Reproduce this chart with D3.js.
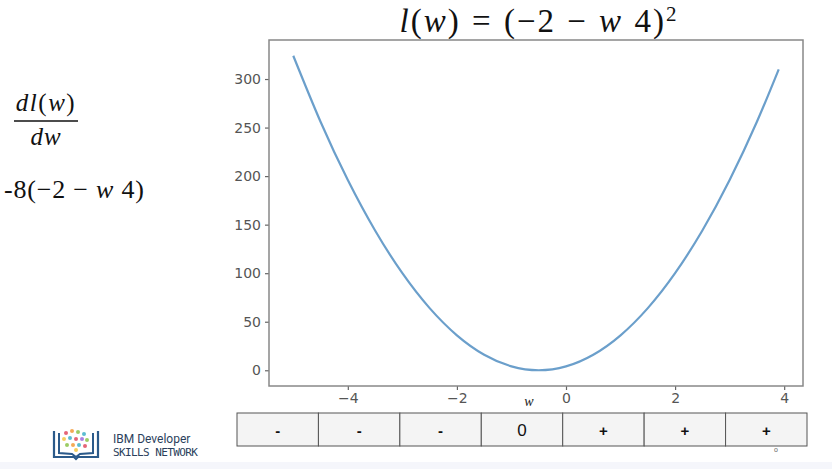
<!DOCTYPE html>
<html>
<head>
<meta charset="utf-8">
<script src="https://cdn.jsdelivr.net/npm/d3@7"></script>
<style>
  body { margin: 0; background: #fff; }
  svg { display: block; }
</style>
</head>
<body>
<svg id="chart" width="832" height="469"></svg>
<script>
// values
var wValues = [-5, -4.5, -4, -3.5, -3, -2.5, -2, -1.5, -1, -0.5, 0, 0.5, 1, 1.5, 2, 2.5, 3, 3.5, 3.9];
var lossValues = [324, 256, 196, 144, 100, 64, 36, 16, 4, 0, 4, 16, 36, 64, 100, 144, 196, 256, 310];
var xTicks = [-4, -2, 0, 2, 4];
var yTicks = [0, 50, 100, 150, 200, 250, 300];
var signLabels = ["-", "-", "-", "0", "+", "+", "+"];

var svg = d3.select("#chart");
var box = {left: 269, right: 803, top: 40, bottom: 386};

var x = d3.scaleLinear().domain([-5.445, 4.345]).range([box.left, box.right]);
var y = d3.scaleLinear().domain([-16.2, 340.2]).range([box.bottom, box.top]);

// bottom band
svg.append("rect").attr("x", 0).attr("y", 462).attr("width", 832).attr("height", 7).attr("fill", "#f5f6fb");

// title
var title = svg.append("text")
  .attr("x", 539).attr("y", 32)
  .attr("text-anchor", "middle")
  .style("font", "33px 'Liberation Serif', serif")
  .style("letter-spacing", "2px")
  .style("word-spacing", "1px")
  .attr("fill", "#111");
title.append("tspan").style("font-style", "italic").text("l");
title.append("tspan").text("(");
title.append("tspan").style("font-style", "italic").text("w");
title.append("tspan").text(") = (−2 − ");
title.append("tspan").style("font-style", "italic").text("w");
title.append("tspan").text(" 4)");
title.append("tspan").attr("dy", -11).style("font-size", "21px").text("2");

// derivative on the left
var num = svg.append("text").attr("x", 46).attr("y", 111).attr("text-anchor", "middle")
  .style("font", "25px 'Liberation Serif', serif").style("letter-spacing", "1.5px").attr("fill", "#111");
num.append("tspan").style("font-style", "italic").text("dl");
num.append("tspan").text("(");
num.append("tspan").style("font-style", "italic").text("w");
num.append("tspan").text(")");
svg.append("line").attr("x1", 14).attr("x2", 78).attr("y1", 121).attr("y2", 121)
  .attr("stroke", "#111").attr("stroke-width", 1.3);
svg.append("text").attr("x", 46).attr("y", 145).attr("text-anchor", "middle")
  .style("font", "italic 25px 'Liberation Serif', serif").style("letter-spacing", "1px").attr("fill", "#111").text("dw");
var der = svg.append("text").attr("x", 4).attr("y", 198)
  .style("font", "26px 'Liberation Serif', serif").style("letter-spacing", "0.8px").attr("fill", "#111");
der.append("tspan").text("-8(−2 − ");
der.append("tspan").style("font-style", "italic").text("w");
der.append("tspan").text(" 4)");

// axes
var yAxis = d3.axisLeft(y).tickValues(yTicks).tickSize(4).tickPadding(4);
var xAxis = d3.axisBottom(x).tickValues(xTicks).tickSize(4).tickPadding(3)
  .tickFormat(function(d) { return d < 0 ? "−" + Math.abs(d) : d; });

var gy = svg.append("g").attr("transform", "translate(" + box.left + ",0)").call(yAxis);
var gx = svg.append("g").attr("transform", "translate(0," + box.bottom + ")").call(xAxis);
[gx, gy].forEach(function(g) {
  g.select(".domain").remove();
  g.selectAll(".tick line").attr("stroke", "#666").attr("stroke-width", 1.2);
  g.selectAll(".tick text").attr("fill", "#555").style("font", "14px 'DejaVu Sans', sans-serif");
});

svg.append("text").attr("x", 529).attr("y", 406).attr("text-anchor", "middle")
  .style("font", "italic 14px 'Liberation Serif', serif").attr("fill", "#222").text("w");

// curve
var line = d3.line()
  .x(function(d, i) { return x(wValues[i]); })
  .y(function(d) { return y(d); })
  .curve(d3.curveNatural);

svg.append("path")
  .datum(lossValues)
  .attr("d", line)
  .attr("fill", "none")
  .attr("stroke", "#6b9fcb")
  .attr("stroke-width", 2.2);

// frame
svg.append("rect")
  .attr("x", box.left).attr("y", box.top)
  .attr("width", box.right - box.left).attr("height", box.bottom - box.top)
  .attr("fill", "none").attr("stroke", "#888").attr("stroke-width", 1.5);

// sign table
var cellX = d3.scaleBand().domain(d3.range(signLabels.length)).range([237, 807]);
var cells = svg.selectAll(".cell").data(signLabels).enter().append("g").attr("class", "cell");
cells.append("rect")
  .attr("x", function(d, i) { return cellX(i); })
  .attr("y", 413)
  .attr("width", cellX.bandwidth())
  .attr("height", 33)
  .attr("fill", "#f4f4f4")
  .attr("stroke", "#555")
  .attr("stroke-width", 1);
cells.append("text")
  .attr("x", function(d, i) { return cellX(i) + cellX.bandwidth() / 2; })
  .attr("y", 436)
  .attr("text-anchor", "middle")
  .style("font", function(d) { return d == "0" ? "17px 'Liberation Sans', sans-serif" : "bold 15px 'Liberation Sans', sans-serif"; })
  .attr("fill", "#111")
  .text(function(d) { return d; });
svg.append("text").attr("x", 776).attr("y", 452).attr("text-anchor", "middle")
  .style("font", "7px sans-serif").attr("fill", "#666").text("o");

// IBM logo
var logo = svg.append("g").attr("transform", "translate(52,427)");
logo.append("path").attr("d", "M2,4 L2,30 L22,30 L24,32 L26,30 L46,30 L46,4")
  .attr("fill", "none").attr("stroke", "#2b5a8a").attr("stroke-width", 2.2);
logo.append("path").attr("d", "M7,6 L7,26 L20,27 L24,30 M41,6 L41,26 L28,27 L24,30")
  .attr("fill", "none").attr("stroke", "#2b5a8a").attr("stroke-width", 2);
var dots = [[14,6,"#e04a5f"],[20,4,"#f29b38"],[26,5,"#8bc34a"],[32,7,"#3fb0c9"],[12,12,"#f4c542"],[18,11,"#3fb0c9"],[24,12,"#e04a5f"],[30,12,"#9c6ade"],[35,13,"#8bc34a"],[15,18,"#8bc34a"],[21,18,"#f29b38"],[27,18,"#3fb0c9"],[33,19,"#e04a5f"],[24,23,"#f4c542"]];
logo.selectAll("circle").data(dots).enter().append("circle")
  .attr("cx", function(d) { return d[0]; }).attr("cy", function(d) { return d[1]; })
  .attr("r", 2).attr("fill", function(d) { return d[2]; }).attr("opacity", 0.85);
svg.append("text").attr("x", 113).attr("y", 443)
  .style("font", "12px 'Roboto', sans-serif").attr("fill", "#2b3f5c").text("IBM Developer");
svg.append("text").attr("x", 113).attr("y", 456)
  .style("font", "11px 'DejaVu Sans Mono', monospace").style("letter-spacing", "-0.6px").attr("fill", "#2b3f5c").text("SKILLS NETWORK");
</script>
</body>
</html>
